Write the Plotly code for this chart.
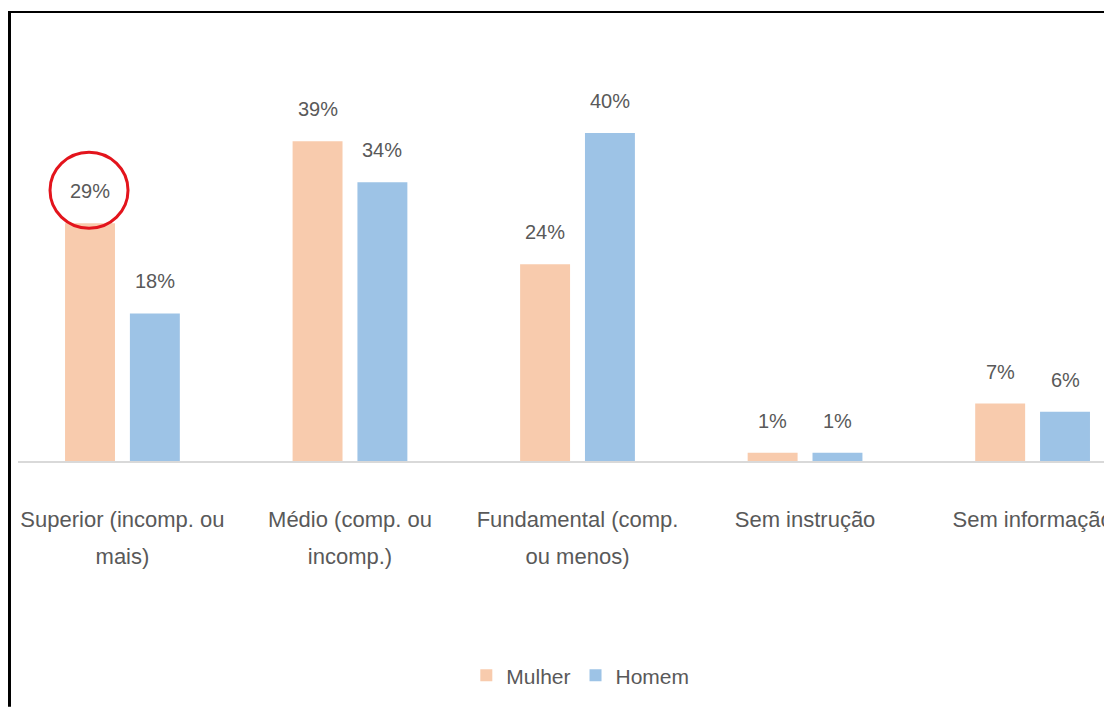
import plotly.graph_objects as go

categories = ["Superior", "Médio", "Fundamental", "Sem instrução", "Sem informação"]
label_line1 = ["Superior (incomp. ou", "Médio (comp. ou", "Fundamental (comp.", "Sem instrução", "Sem informação"]
label_line2 = ["mais)", "incomp.)", "ou menos)", "", ""]
series_names = ["Mulher", "Homem"]
mulher = [29, 39, 24, 1, 7]
homem = [18, 34, 40, 1, 6]
colors = ["#F8CBAD", "#9DC3E6"]

FONT = "Liberation Sans, Arial, sans-serif"
TXT = "#595959"
bargap = 0.43
bargroupgap = 0.23

fig = go.Figure()
for name, vals, col in zip(series_names, [mulher, homem], colors):
    fig.add_trace(go.Bar(name=name, x=categories, y=vals, marker_color=col,
                         marker_line_width=0, hoverinfo="skip"))

# invisible trace carrying second-line axis labels
fig.add_trace(go.Scatter(x=categories, y=[None] * len(categories), xaxis="x2",
                         showlegend=False, hoverinfo="skip", mode="markers"))

# data labels above bars
off = (1 - bargap) / 4
annotations = []
for s, vals in enumerate([mulher, homem]):
    for i, v in enumerate(vals):
        annotations.append(dict(x=i + (-off if s == 0 else off), y=v, xref="x", yref="y",
                                text=f"{v}%", showarrow=False, yanchor="middle", yshift=32,
                                font=dict(family=FONT, size=20, color=TXT)))

xr = [-0.459, 4.349]
fig.update_layout(
    width=1104, height=699, autosize=False,
    margin=dict(l=10, r=0, t=32, b=246),
    paper_bgcolor="white", plot_bgcolor="white",
    barmode="group", bargap=bargap, bargroupgap=bargroupgap,
    font=dict(family=FONT, color=TXT),
    xaxis=dict(type="category", categoryarray=categories, range=xr,
               showline=True, linecolor="#d9d9d9", linewidth=1.5,
               ticks="", showgrid=False, zeroline=False,
               tickvals=categories, ticktext=label_line1,
               tickfont=dict(family=FONT, size=22, color=TXT), ticklabelstandoff=38),
    xaxis2=dict(type="category", categoryarray=categories, range=xr, overlaying="x",
                anchor="y", side="bottom", showline=False, ticks="", showgrid=False,
                zeroline=False, tickvals=categories, ticktext=label_line2,
                tickfont=dict(family=FONT, size=22, color=TXT), ticklabelstandoff=80),
    yaxis=dict(range=[0, 51.34], visible=False),
    legend=dict(orientation="h", x=0.514, xanchor="center", y=-0.51, yanchor="middle",
                font=dict(family=FONT, size=21, color=TXT)),
    annotations=annotations,
    shapes=[
        dict(type="circle", xref="x", yref="y", xsizemode="pixel", ysizemode="pixel",
             xanchor=-off, yanchor=mulher[0], x0=-40, x1=38, y0=-5, y1=71,
             line=dict(color="#E3141C", width=3)),
        dict(type="line", xref="paper", yref="paper", x0=-0.00777, x1=-0.00777,
             y0=-0.584, y1=1.0665, line=dict(color="black", width=3)),
        dict(type="line", xref="paper", yref="paper", x0=-0.0092, x1=1.0,
             y0=1.0665, y1=1.0665, line=dict(color="black", width=2)),
    ],
)

fig.write_html("out.html")
